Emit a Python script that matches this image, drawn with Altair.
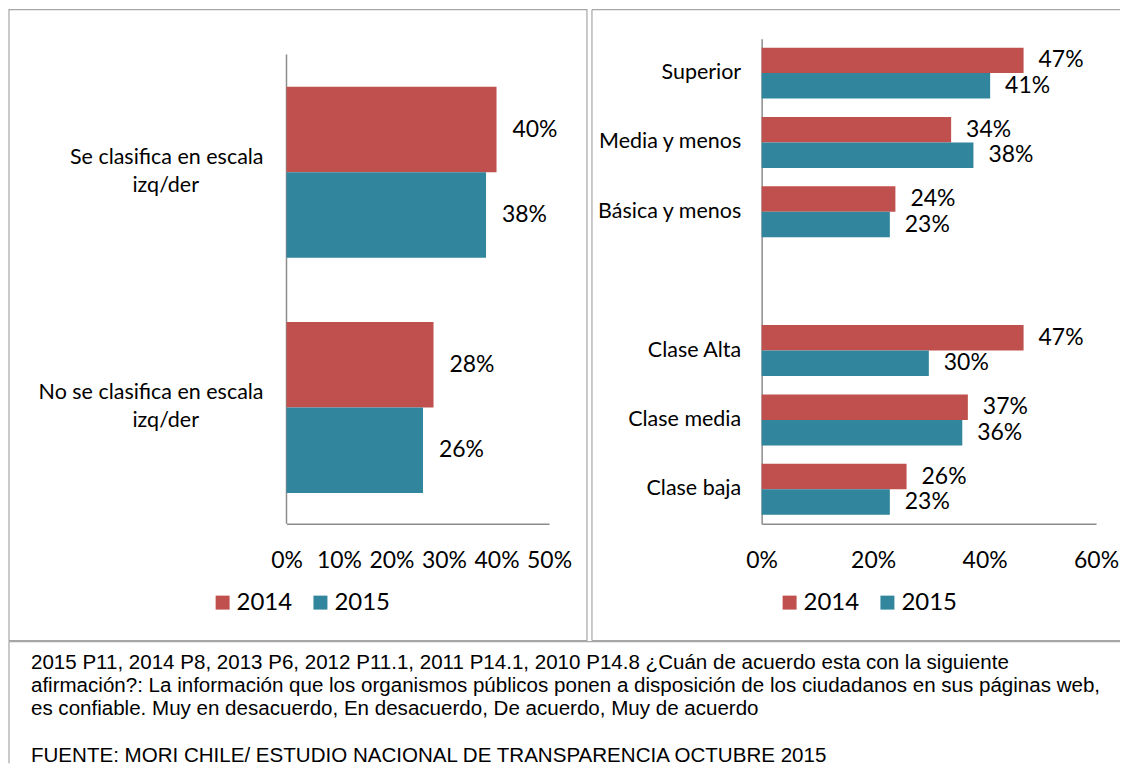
import altair as alt
import pandas as pd

# ---------------- data ----------------
years = ["2014", "2015"]
year_colors = ["#C0504D", "#31859C"]

left_cats = ["Se clasifica en escala|izq/der", "No se clasifica en escala|izq/der"]
left_2014 = [40, 28]
left_2015 = [38, 26]
left_ticks = [0, 10, 20, 30, 40, 50]

right_cats = ["Superior", "Media y menos", "Básica y menos", " ",
              "Clase Alta", "Clase media", "Clase baja"]
right_2014 = [47, 34, 24, None, 47, 37, 26]
right_2015 = [41, 38, 23, None, 30, 36, 23]
right_ticks = [0, 20, 40, 60]

footer_lines = [
    "2015 P11, 2014 P8, 2013 P6, 2012 P11.1, 2011 P14.1, 2010 P14.8 ¿Cuán de acuerdo esta con la siguiente",
    "afirmación?: La información que los organismos públicos ponen a disposición de los ciudadanos en sus páginas web,",
    "es confiable. Muy en desacuerdo, En desacuerdo, De acuerdo, Muy de acuerdo",
]
source_line = "FUENTE: MORI CHILE/ ESTUDIO NACIONAL DE TRANSPARENCIA OCTUBRE 2015"


def long_df(cats, v14, v15):
    rows = []
    for c, a, b in zip(cats, v14, v15):
        if a is not None:
            rows.append({"cat": c, "year": "2014", "val": a})
        if b is not None:
            rows.append({"cat": c, "year": "2015", "val": b})
    return pd.DataFrame(rows)


left_df = long_df(left_cats, left_2014, left_2015)
right_df = long_df(right_cats, right_2014, right_2015)
left_cat_df = pd.DataFrame({"cat": left_cats})
one = pd.DataFrame({"k": [0]})

GREY = "#a6a6a6"
AXIS_GREY = "#8c8c8c"
FONT = "Lato"
FOOT_FONT = "Liberation Sans"
FOOT_SIZE = 20.6


def legend(x):
    return alt.Legend(title=None, orient="none", legendX=x, legendY=553,
                      direction="horizontal", symbolType="square", symbolSize=196,
                      symbolStrokeWidth=0, labelFontSize=24, labelFont=FONT,
                      labelColor="black", labelOffset=2, columnPadding=16, padding=0)


# ---------------- left panel ----------------
ly = alt.Y("cat:N", sort=left_cats,
           scale=alt.Scale(domain=left_cats, paddingInner=0.2723, paddingOuter=0.168, align=0.61),
           axis=alt.Axis(title=None, domain=False, ticks=False, labels=False))
lx = alt.X("val:Q", scale=alt.Scale(domain=[0, 50]),
           axis=alt.Axis(title=None, values=left_ticks, labelExpr="datum.value + '%'",
                         grid=False, ticks=False, tickSize=0, labelPadding=26,
                         labelOverlap=False, labelFlush=False, labelFontSize=23,
                         labelFont=FONT, labelColor="black",
                         domainColor=AXIS_GREY, domainWidth=1.5))
lyo = alt.YOffset("year:N", sort=years, scale=alt.Scale(domain=years))

left_bars = alt.Chart(left_df).mark_bar().encode(
    y=ly, x=lx, yOffset=lyo,
    color=alt.Color("year:N", scale=alt.Scale(domain=years, range=year_colors), legend=legend(-76)),
)
left_text = alt.Chart(left_df).transform_calculate(lab="datum.val + '%'").mark_text(
    align="left", baseline="middle", dx=16, fontSize=23, font=FONT, color="black"
).encode(y=ly, x=lx, yOffset=lyo, text="lab:N")

# category labels (two lines: first right-aligned, second centred, as in the original)
cat_line1 = alt.Chart(left_cat_df).transform_calculate(
    t="split(datum.cat, '|')[0]").mark_text(
    align="right", baseline="middle", dy=-14, fontSize=21.5, font=FONT, color="black"
).encode(y=ly, x=alt.value(-23), text="t:N")
cat_line2 = alt.Chart(left_cat_df).transform_calculate(
    t="split(datum.cat, '|')[1]").mark_text(
    align="center", baseline="middle", dy=14, fontSize=21.5, font=FONT, color="black"
).encode(y=ly, x=alt.value(-121), text="t:N")

left_vaxis = alt.Chart(one).mark_rule(color=AXIS_GREY, strokeWidth=1.5).encode(
    x=alt.value(0), y=alt.value(16), y2=alt.value(486))
left_border = alt.Chart(one).mark_rect(fillOpacity=0, stroke=GREY, strokeWidth=1.2).encode(
    x=alt.value(-278), x2=alt.value(301), y=alt.value(-29), y2=alt.value(603))
footer_top = alt.Chart(one).mark_rule(color=GREY, strokeWidth=1.2).encode(
    x=alt.value(-278), x2=alt.value(835), y=alt.value(604))
footer_left = alt.Chart(one).mark_rule(color=GREY, strokeWidth=1.2).encode(
    x=alt.value(-278), y=alt.value(604), y2=alt.value(726))
footer_text = alt.Chart(one).mark_text(
    align="left", baseline="middle", font=FOOT_FONT, fontSize=FOOT_SIZE,
    lineHeight=22.7, color="black"
).encode(x=alt.value(-256), y=alt.value(626), text=alt.value(footer_lines))
source_text = alt.Chart(one).mark_text(
    align="left", baseline="middle", font=FOOT_FONT, fontSize=FOOT_SIZE, color="black"
).encode(x=alt.value(-256), y=alt.value(719), text=alt.value(source_line))

left = alt.layer(left_border, footer_top, footer_left, footer_text, source_text, left_vaxis,
                 left_bars, left_text, cat_line1, cat_line2).properties(width=263, height=486)

# ---------------- right panel ----------------
ry = alt.Y("cat:N", sort=right_cats,
           scale=alt.Scale(domain=right_cats, paddingInner=0.266, paddingOuter=0.13),
           axis=alt.Axis(title=None, domain=True, ticks=False, tickSize=0,
                         labelAlign="right", labelBaseline="middle", labelPadding=21,
                         labelFontSize=21.5, labelLimit=400, labelFont=FONT, labelColor="black",
                         domainColor=AXIS_GREY, domainWidth=1.5))
rx = alt.X("val:Q", scale=alt.Scale(domain=[0, 60]),
           axis=alt.Axis(title=None, values=right_ticks, labelExpr="datum.value + '%'",
                         grid=False, ticks=False, tickSize=0, labelPadding=26,
                         labelOverlap=False, labelFlush=False, labelFontSize=23,
                         labelFont=FONT, labelColor="black",
                         domainColor=AXIS_GREY, domainWidth=1.5))
ryo = alt.YOffset("year:N", sort=years, scale=alt.Scale(domain=years))

right_bars = alt.Chart(right_df).mark_bar().encode(
    y=ry, x=rx, yOffset=ryo,
    color=alt.Color("year:N", scale=alt.Scale(domain=years, range=year_colors), legend=legend(16)),
)
right_text = alt.Chart(right_df).transform_calculate(lab="datum.val + '%'").mark_text(
    align="left", baseline="middle", dx=15, fontSize=23, font=FONT, color="black"
).encode(y=ry, x=rx, yOffset=ryo, text="lab:N")

r_top = alt.Chart(one).mark_rule(color=GREY, strokeWidth=1.2).encode(
    x=alt.value(-170), x2=alt.value(359), y=alt.value(-29))
r_left = alt.Chart(one).mark_rule(color=GREY, strokeWidth=1.2).encode(
    x=alt.value(-170), y=alt.value(-29), y2=alt.value(603))
r_bottom = alt.Chart(one).mark_rule(color=GREY, strokeWidth=1.2).encode(
    x=alt.value(-170), x2=alt.value(359), y=alt.value(603))

right = alt.layer(r_top, r_left, r_bottom, right_bars, right_text).properties(width=335, height=486)

chart = alt.hconcat(left, right, spacing=213, bounds="flush").resolve_scale(
    color="independent", yOffset="independent", x="independent", y="independent"
).resolve_legend(color="independent").properties(
    padding=0, background="white").configure_view(stroke=None)

chart.save("out.html", embed_options={"renderer": "svg", "actions": False})
